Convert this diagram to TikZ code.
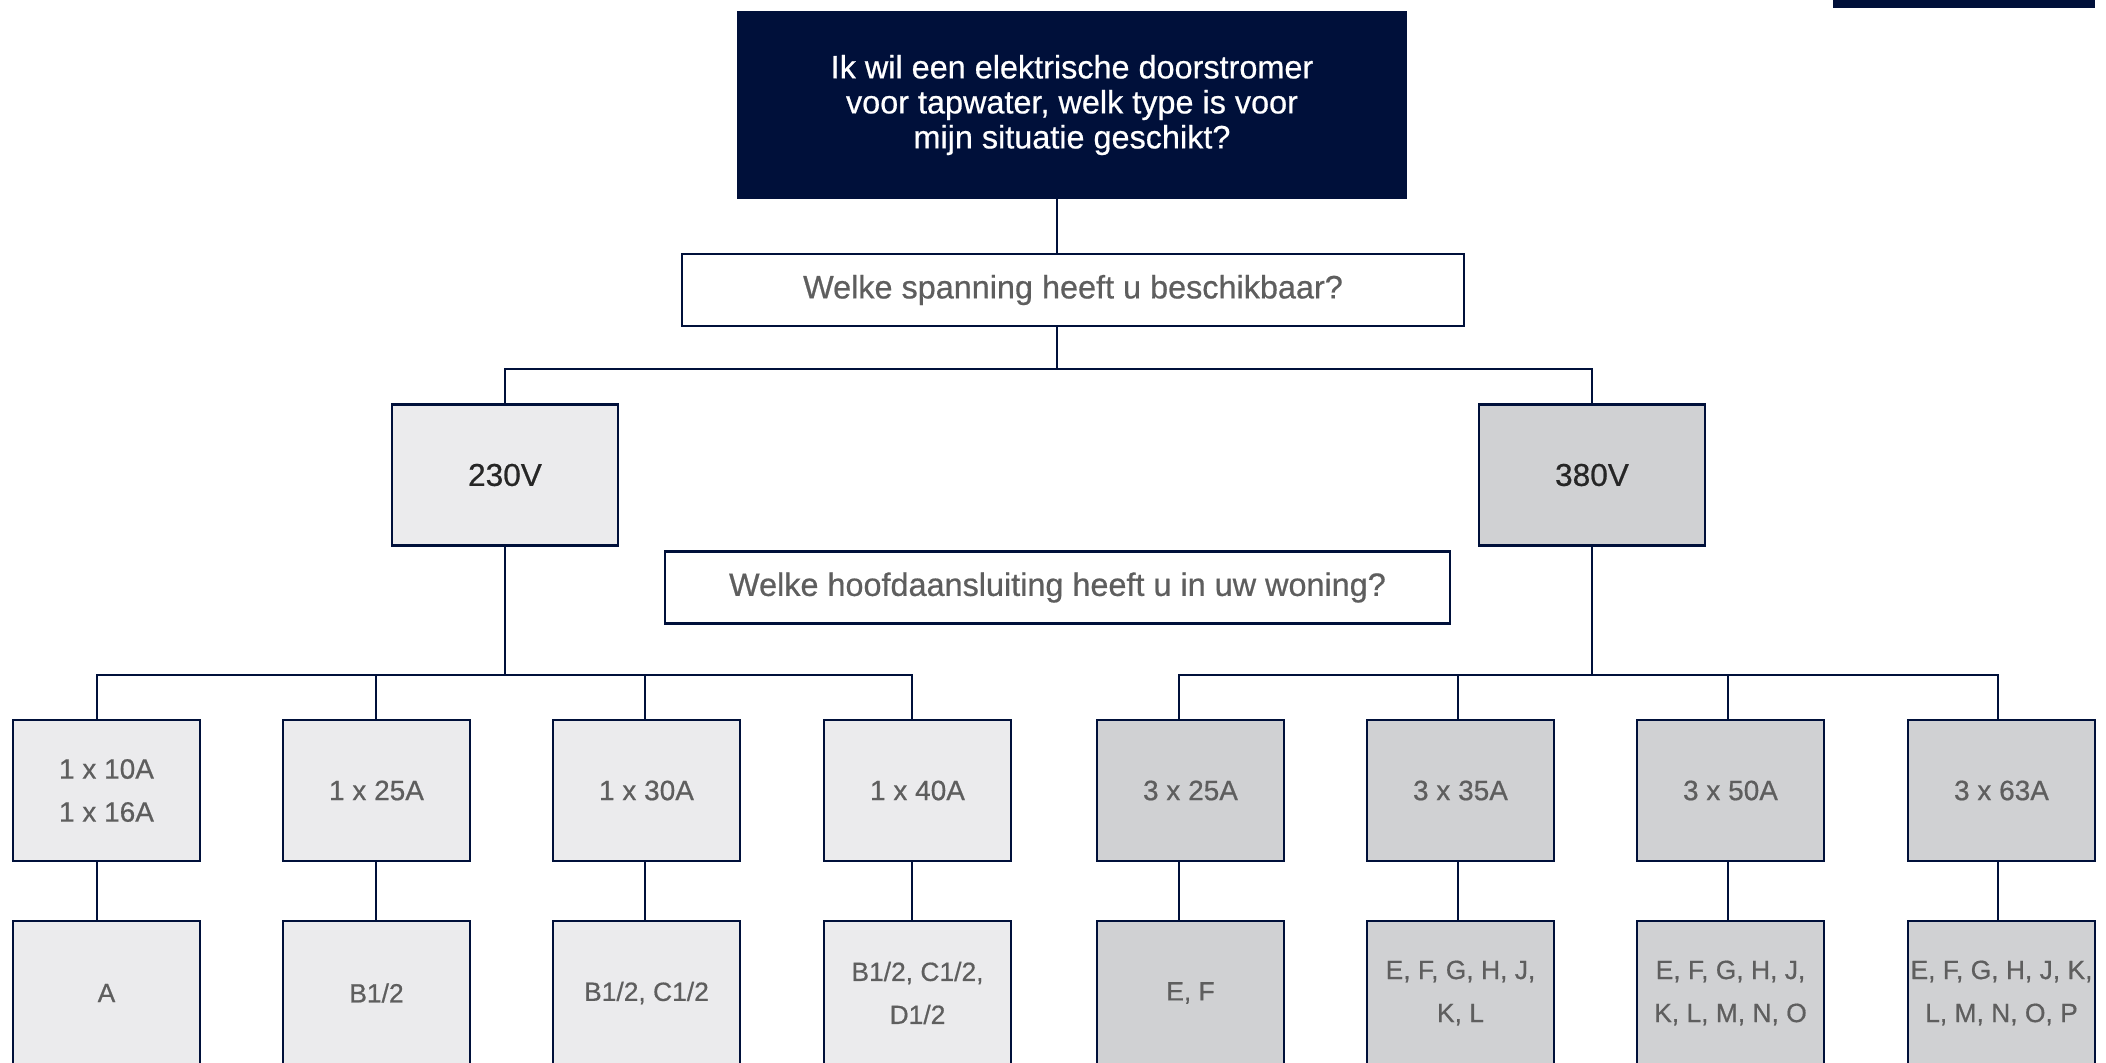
\documentclass[tikz,border=0pt]{standalone}
\usepackage{fontspec}
\setmainfont{Liberation Sans}[FakeBold=0.6]
\usepackage{xcolor}
\usetikzlibrary{positioning}
\definecolor{navy}{HTML}{00103A}
\definecolor{paleGray}{HTML}{EBEBED}
\definecolor{midGray}{HTML}{D0D1D3}
\definecolor{txtGray}{HTML}{5E5E5E}

\tikzset{
  box/.style={draw=navy,line width=1.2pt,minimum width=93.5pt,minimum height=70.5pt,
    align=center,inner xsep=0pt,inner ysep=2pt,text=txtGray,font=\fontsize{14}{21.5}\selectfont},
  lowbox/.style={box,fill=paleGray},
  highbox/.style={box,fill=midGray},
  typebox/.style={minimum height=72pt,font=\fontsize{13.2}{21.5}\selectfont},
  voltbox/.style={box,minimum width=113pt,text=black!85,font=\fontsize{15.8}{18}\selectfont},
  question/.style={draw=navy,line width=1.2pt,fill=white,minimum height=36pt,
    text=txtGray,font=\fontsize{16.2}{18}\selectfont},
  wire/.style={draw=navy,line width=0.9pt},
}

\begin{document}
\begin{tikzpicture}[x=0.5pt,y=-0.5pt]
\useasboundingbox (0,0) rectangle (2106,1062);
\clip (0,0) rectangle (2106,1062);
\fill[navy] (1833,0) rectangle (2095,8);

% vraag en spanning
\node[fill=navy,minimum width=335pt,minimum height=94pt,text=white,align=center,
  font=\fontsize{16.2}{17.5}\selectfont] (vraag) at (1072,105)
  {Ik wil een elektrische doorstromer\\voor tapwater, welk type is voor\\mijn situatie geschikt?};
\node[question,minimum width=391pt] (spanning) at (1073,290) {Welke spanning heeft u beschikbaar?};
\node[voltbox,fill=paleGray] (v230) at (505,475) {230V};
\node[voltbox,fill=midGray] (v380) at (1592,475) {380V};
\node[question,minimum width=392.5pt] (aansluiting) at (1057.5,587.5) {Welke hoofdaansluiting heeft u in uw woning?};

% hoofdaansluitingen en types
\foreach \i/\x/\sty/\lab/\typ in {
  1/106.5/lowbox/{1 x 10A\\1 x 16A}/{A},
  2/376.5/lowbox/{1 x 25A}/{B1/2},
  3/646.5/lowbox/{1 x 30A}/{B1/2, C1/2},
  4/917.5/lowbox/{1 x 40A}/{B1/2, C1/2,\\D1/2},
  5/1190.5/highbox/{3 x 25A}/{E, F},
  6/1460.5/highbox/{3 x 35A}/{E, F, G, H, J,\\K, L},
  7/1730.5/highbox/{3 x 50A}/{E, F, G, H, J,\\K, L, M, N, O},
  8/2001.5/highbox/{3 x 63A}/{E, F, G, H, J, K,\\L, M, N, O, P}}{
  \node[\sty] (a\i) at (\x,790.5) {\lab};
  \node[\sty,typebox] (b\i) at (\x,993) {\typ};
}

% verbindingen
\coordinate (splitV) at (1057,369);
\coordinate (busL) at (505,675);
\coordinate (busR) at (1592,675);
\draw[wire] ([xshift=-7.5pt]vraag.south) -- ([xshift=-8pt]spanning.north);
\draw[wire] ([xshift=-8pt]spanning.south) -- (splitV);
\draw[wire] (v230.north) |- (splitV) -| (v380.north);
\draw[wire] (v230.south) -- (busL);
\draw[wire] (v380.south) -- (busR);
\foreach \i/\dx in {1/-4.75,2/-0.25,3/-0.75,4/-2.75}{
  \draw[wire] (busL) -| ([xshift=\dx pt]a\i.north);
  \draw[wire] ([xshift=\dx pt]a\i.south) -- ([xshift=\dx pt]b\i.north);
}
\foreach \i/\dx in {5/-5.75,6/-1.25,7/-1.25,8/-1.75}{
  \draw[wire] (busR) -| ([xshift=\dx pt]a\i.north);
  \draw[wire] ([xshift=\dx pt]a\i.south) -- ([xshift=\dx pt]b\i.north);
}
\end{tikzpicture}
\end{document}
